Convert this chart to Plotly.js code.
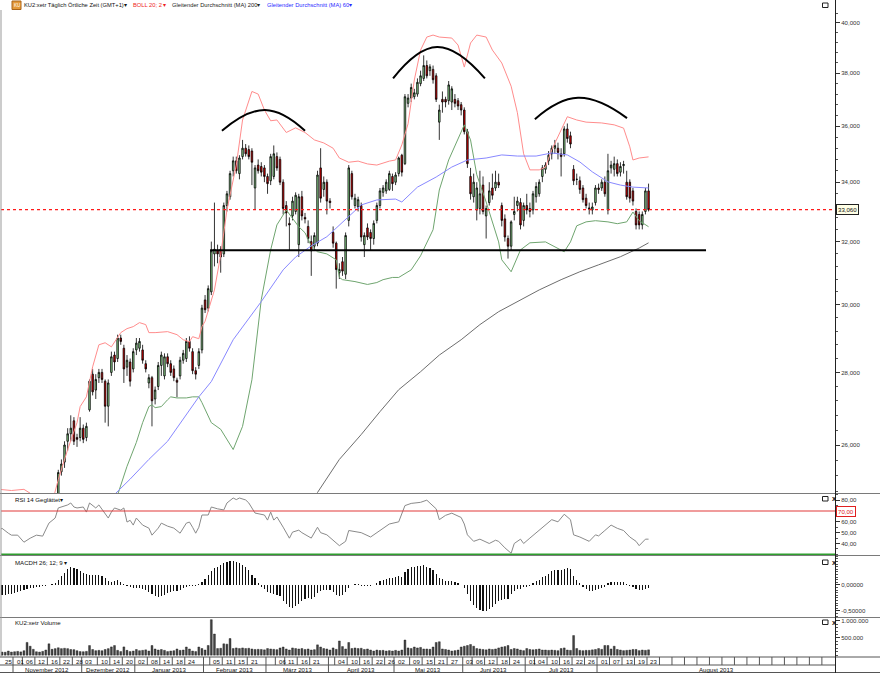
<!DOCTYPE html>
<html><head><meta charset="utf-8">
<script src="https://cdn.plot.ly/plotly-3.0.1.min.js"></script>
<style>html,body{margin:0;padding:0;background:#fff;} #chart{width:880px;height:673px;}</style>
</head><body><div id="chart"></div>
<script>
// ---------- DATA (daily candles, index 0 = 25.10.2012 ... 208 = 23.08.2013) ----------
const opens = [23.1,23.0,22.8,22.6,22.7,22.4,22.2,22.0,21.8,21.9,
22.2,22.1,22.4,22.3,22.6,22.9,23.3,23.7,24.0,24.5,
25.3,25.55,26.1,26.3,26.65,26.2,26.2,26.45,26.2,26.95,
27.95,27.5,27.85,28.0,27.75,27.05,28.0,28.5,28.4,29.0,
28.7,28.15,28.3,28.1,28.65,28.7,28.65,28.25,27.7,27.85,
27.25,27.6,28.2,27.9,28.45,28.25,28.1,27.78,27.9,28.35,
28.4,28.9,28.6,28.05,28.2,28.65,30.15,29.9,30.4,31.6,
31.7,31.75,31.6,33.2,33.5,34.4,34.75,34.3,34.9,35.2,
35.15,35.1,33.8,34.6,34.55,34.5,34.2,34.05,34.2,34.9,
34.8,34.0,33.2,32.6,32.85,33.0,31.9,33.5,32.8,32.5,
32.0,31.85,31.95,34.5,33.75,34.0,33.35,32.3,31.95,31.0,
31.35,30.95,32.7,34.3,33.2,33.15,33.2,31.9,32.45,32.3,
32.1,32.7,33.2,33.65,33.7,33.75,34.2,34.0,34.3,34.95,
34.65,36.85,37.05,37.1,37.2,37.6,37.8,38.3,38.1,38.15,
37.9,36.15,37.0,37.0,36.95,36.9,37.0,36.95,36.8,36.6,
35.8,34.2,33.5,33.05,33.1,33.9,32.85,33.3,33.8,33.8,
34.0,33.2,32.75,32.1,31.85,32.9,33.2,33.3,32.7,33.2,
33.1,33.05,33.5,33.6,34.2,34.45,34.75,35.0,35.2,35.2,
35.0,35.0,35.9,35.65,34.45,34.1,34.05,33.8,33.45,33.12,
33.05,33.3,33.8,33.8,34.0,33.05,34.5,34.45,34.65,34.35,
34.58,34.0,34.0,33.7,33.0,32.9,32.55,33.0,33.7];
const highs = [23.3,23.1,22.9,22.9,22.8,22.6,22.3,22.1,22.1,22.4,
22.3,22.5,22.5,22.7,23.0,23.4,23.8,24.1,24.6,25.35,
25.62,26.1,26.45,26.8,26.75,26.3,26.75,26.55,26.6,27.8,
28.1,27.95,28.1,28.1,27.8,27.8,28.6,28.6,29.1,29.1,
28.8,28.5,28.4,28.7,29.0,29.0,28.8,28.35,27.95,27.9,
27.6,28.3,28.6,28.55,28.55,28.35,28.2,27.85,28.45,28.65,
29.0,29.05,28.7,28.15,28.7,30.0,30.3,30.6,32.0,33.3,
31.9,31.85,33.3,33.7,34.4,34.9,34.9,34.95,35.5,35.35,
35.3,35.2,34.6,34.8,34.7,34.6,34.3,35.0,35.3,35.05,
34.9,34.1,33.35,32.8,33.5,33.65,33.6,33.7,32.95,32.7,
32.2,32.3,34.4,35.2,34.2,34.1,33.45,32.5,32.0,31.3,
31.5,32.3,34.6,34.4,33.6,33.5,33.3,32.3,32.6,32.4,
32.7,33.3,33.8,33.9,34.1,34.4,34.3,34.35,34.9,35.0,
37.2,37.2,37.6,37.4,37.8,38.1,38.7,38.5,38.35,38.3,
38.0,36.8,37.3,37.1,37.7,37.5,37.2,37.05,36.9,36.7,
35.9,34.5,34.3,34.0,34.4,34.2,33.2,34.0,34.3,34.4,
34.3,33.3,32.9,32.2,32.7,33.5,33.5,33.45,33.3,33.6,
33.3,33.7,34.0,34.1,34.6,34.7,35.1,35.3,35.5,35.4,
35.2,36.0,36.1,35.8,34.6,34.3,34.2,33.9,33.6,33.3,
33.3,33.9,33.95,34.1,34.2,35.0,34.75,34.9,34.8,34.7,
34.75,34.4,34.1,33.8,33.1,33.0,33.0,33.8,33.95];
const lows = [22.8,22.6,22.4,22.5,22.3,22.1,21.9,21.6,21.7,21.8,
21.9,22.0,22.1,22.2,22.5,22.8,23.2,23.6,23.9,24.4,
25.2,25.4,25.85,26.1,26.0,25.95,26.1,26.05,26.1,26.9,
27.35,27.25,27.7,27.7,26.6,26.5,27.9,28.05,28.3,28.8,
27.7,27.9,27.6,28.0,28.5,28.6,28.25,28.0,27.55,26.5,
27.1,27.5,27.9,27.8,28.15,27.9,27.75,27.3,27.8,28.25,
28.3,28.6,27.95,27.8,28.1,28.55,29.75,29.8,30.3,31.2,
31.3,31.0,31.5,33.0,33.4,34.2,34.3,34.1,34.8,34.9,
34.8,33.9,33.05,34.3,34.2,34.0,33.6,33.9,34.1,34.4,
33.9,32.9,32.5,31.7,32.7,32.9,31.5,32.7,32.6,31.95,
30.9,31.7,31.85,33.3,33.5,32.9,33.1,31.8,30.5,30.8,
30.9,30.8,32.5,33.4,33.1,33.0,32.0,31.5,32.05,31.7,
31.9,32.6,33.1,33.5,33.6,33.7,33.7,33.9,34.2,34.2,
34.6,36.7,36.9,37.0,37.1,37.5,37.7,37.8,37.9,37.6,
36.9,35.5,36.5,36.7,36.8,36.6,36.7,36.6,36.4,35.7,
34.5,33.4,33.3,32.7,32.9,32.9,32.1,33.2,33.4,33.7,
33.8,32.5,32.0,31.45,31.7,32.7,33.0,32.4,32.5,32.9,
32.8,32.9,33.3,33.5,34.0,34.3,34.6,34.8,35.0,34.8,
34.2,34.9,35.4,35.2,33.9,33.9,33.6,33.3,33.1,32.9,
32.9,33.2,33.6,33.7,33.5,32.9,34.3,34.2,34.2,34.2,
34.3,33.4,33.3,33.2,32.4,32.4,32.4,32.9,33.0];
const closes = [23.0,22.8,22.6,22.7,22.4,22.2,22.0,21.8,21.9,22.2,
22.1,22.4,22.3,22.6,22.9,23.3,23.7,24.0,24.4,25.28,
25.5,26.0,26.3,26.45,26.1,26.15,26.45,26.15,26.5,27.75,
27.45,27.8,28.0,27.8,27.05,27.7,28.45,28.3,29.0,28.9,
28.1,28.35,27.75,28.6,28.85,28.9,28.35,28.1,27.85,27.2,
27.5,28.2,28.5,28.45,28.25,28.0,27.85,27.72,28.35,28.55,
28.9,28.7,28.05,27.95,28.6,29.9,29.85,30.5,31.7,31.75,
31.6,31.5,33.2,33.6,34.3,34.75,34.4,34.85,35.2,35.0,
34.9,34.7,34.5,34.4,34.35,34.2,33.95,34.9,35.0,34.5,
34.0,33.1,32.95,32.55,33.35,33.55,33.5,32.85,32.75,32.1,
31.7,32.2,34.25,33.45,34.0,33.35,33.3,31.95,31.1,31.1,
31.05,32.2,34.5,33.5,33.45,33.4,32.15,32.2,32.15,32.1,
32.6,33.2,33.7,33.8,34.0,34.3,33.95,34.25,34.85,34.35,
37.1,37.05,37.45,37.25,37.65,37.9,38.3,37.9,38.25,37.75,
37.0,36.6,36.9,36.9,37.55,37.4,36.85,36.75,36.6,35.8,
34.65,33.6,34.0,33.8,33.6,33.0,33.1,33.7,33.55,34.0,
33.9,32.7,32.15,31.85,32.65,33.0,33.35,32.55,33.2,33.05,
33.0,33.6,33.85,34.0,34.5,34.6,34.95,35.2,35.3,35.05,
34.9,35.9,35.55,35.35,34.05,34.1,33.75,33.4,33.2,33.08,
33.15,33.8,33.75,34.0,33.6,34.4,34.6,34.65,34.3,34.55,
34.62,33.5,33.45,33.35,32.55,32.55,32.9,33.7,33.06];

// Volume in thousands
const volumeK = [80,90,85,120,90,100,110,95,130,370,
260,170,100,90,110,150,330,170,190,215,
190,200,190,165,160,130,105,100,110,280,
165,130,140,130,165,190,240,280,140,105,
240,140,105,120,165,130,140,155,120,280,
180,150,165,140,105,120,130,180,140,150,
237,180,120,105,237,193,150,281,1030,614,
193,200,330,320,482,193,210,193,210,193,
200,180,166,170,166,155,193,180,170,160,
210,237,180,150,210,193,180,193,166,180,
150,160,300,237,193,180,150,210,170,412,
250,180,368,193,210,193,200,166,180,150,
120,150,135,140,120,132,120,140,120,150,
440,210,193,237,210,225,180,180,170,237,
368,390,180,166,150,120,132,150,237,260,
281,310,260,193,180,166,155,180,166,180,
210,237,250,281,166,193,180,150,132,193,
166,155,166,180,150,150,140,150,140,132,
193,210,150,140,570,193,140,132,140,140,
155,166,193,170,281,281,180,260,166,150,
132,140,150,166,166,132,150,140,155];

// MACD histogram (26;12;9)
const macdHist = [-0.20,-0.20,-0.19,-0.18,-0.17,-0.15,-0.13,-0.11,-0.09,-0.07,
-0.06,-0.05,-0.04,-0.03,-0.02,-0.02,0.00,0.01,0.04,0.10,
0.17,0.24,0.30,0.34,0.33,0.30,0.26,0.24,0.21,0.19,
0.20,0.20,0.19,0.17,0.13,0.08,0.06,0.07,0.09,0.06,
0.01,-0.02,-0.04,-0.06,-0.05,-0.06,-0.08,-0.10,-0.13,-0.18,
-0.22,-0.23,-0.22,-0.20,-0.16,-0.13,-0.12,-0.11,-0.09,-0.06,
-0.04,-0.02,-0.01,-0.02,0.02,0.06,0.11,0.20,0.26,0.32,
0.35,0.38,0.42,0.45,0.47,0.47,0.45,0.42,0.39,0.35,
0.29,0.20,0.13,0.03,-0.04,-0.08,-0.13,-0.16,-0.18,-0.20,
-0.22,-0.30,-0.37,-0.42,-0.45,-0.40,-0.36,-0.30,-0.27,-0.25,
-0.26,-0.24,-0.15,-0.12,-0.10,-0.10,-0.10,-0.14,-0.20,-0.22,
-0.20,-0.14,-0.05,0.00,0.02,0.02,-0.01,-0.02,-0.02,-0.02,
0.00,0.04,0.07,0.09,0.11,0.14,0.14,0.15,0.17,0.16,
0.25,0.30,0.34,0.35,0.37,0.37,0.38,0.35,0.32,0.28,
0.22,0.14,0.11,0.08,0.08,0.07,0.05,0.03,0.00,-0.05,
-0.17,-0.30,-0.38,-0.44,-0.48,-0.50,-0.50,-0.46,-0.42,-0.36,
-0.30,-0.28,-0.27,-0.26,-0.18,-0.12,-0.08,-0.07,-0.04,-0.03,
-0.01,0.03,0.07,0.10,0.15,0.18,0.22,0.26,0.28,0.29,
0.28,0.31,0.32,0.30,0.18,0.10,0.03,-0.03,-0.08,-0.12,
-0.12,-0.10,-0.08,-0.05,-0.04,0.03,0.05,0.06,0.06,0.06,
0.05,0.02,-0.01,-0.03,-0.07,-0.10,-0.10,-0.07,-0.06];

// Indicator lines: [day index, value]
const bollUpper = [[0,24.85],[4,24.82],[8,24.85],[10,24.75],[13,24.5],[17,24.5],[19,25.1],[22,25.88],[25,26.6],[26,27.04],[28,27.31],[30,28.16],[32,28.8],[34,28.86],[36,28.74],[37,28.89],[39,29.16],[41,29.28],[43,29.34],[45,29.46],[47,29.40],[48,29.16],[50,29.16],[54,29.19],[55,29.16],[57,29.10],[59,28.95],[61,28.89],[62,29.04],[64,28.98],[65,29.34],[66,29.5],[69,30.46],[71,31.57],[73,33.05],[76,34.6],[78,36.23],[80,36.98],[81,37.3],[83,37.2],[85,36.6],[87,36.2],[89,36.23],[92,35.77],[95,35.94],[98,35.77],[101,35.5],[104,35.39],[107,35.2],[109,34.85],[112,34.7],[115,34.74],[118,34.64],[121,34.6],[125,34.74],[127,34.78],[128,35.03],[129,35.32],[131,36.09],[133,37.74],[135,38.91],[137,39.43],[139,39.51],[141,39.43],[145,39.39],[147,39.11],[149,38.24],[151,39.19],[153,39.51],[156,39.43],[158,38.91],[161,38.4],[164,37.5],[166,36.5],[168,35.0],[170,34.43],[173,34.43],[175,34.53],[177,35.14],[181,36.15],[182,36.35],[185,36.23],[188,36.15],[193,36.12],[197,36.05],[200,35.93],[202,35.25],[203,34.78],[205,34.85],[208,34.89]];
const bollLower = [[35,24.0],[38,24.72],[41,25.44],[44,26.07],[46,26.6],[48,27.04],[49,27.09],[50,27.01],[52,27.04],[54,27.23],[55,27.31],[57,27.28],[60,27.28],[62,27.31],[64,27.31],[65,27.15],[68,26.6],[71,26.42],[75,25.88],[78,26.5],[81,27.79],[84,30.16],[87,31.73],[89,32.55],[92,33.05],[96,32.49],[98,32.29],[100,31.86],[102,31.67],[105,31.6],[108,31.41],[109,30.85],[110,30.78],[114,30.72],[118,30.63],[121,30.69],[123,30.78],[126,30.85],[128,30.85],[132,31.09],[135,31.54],[139,32.39],[141,33.73],[144,34.78],[147,35.5],[149,36.05],[151,35.5],[153,34.26],[156,33.32],[160,31.99],[161,31.41],[164,31.03],[167,31.73],[170,31.96],[175,31.99],[181,31.67],[183,31.99],[185,32.52],[188,32.65],[191,32.69],[195,32.65],[198,32.59],[201,32.65],[203,32.98],[205,32.69],[208,32.49]];
const ma60 = [[36,24.5],[37,24.72],[42,25.11],[48,25.62],[54,26.1],[59,26.69],[64,27.31],[68,27.74],[75,28.95],[84,30.1],[91,31.09],[95,31.5],[100,31.86],[105,32.16],[111,32.72],[116,33.22],[121,33.39],[127,33.42],[129,33.32],[134,33.83],[140,34.18],[145,34.53],[150,34.78],[156,34.85],[161,34.96],[166,34.92],[172,34.92],[177,35.03],[182,34.96],[186,34.71],[190,34.36],[195,34.01],[199,33.9],[203,33.83],[208,33.8]];
const ma200 = [[100,24.6],[102,24.77],[109,25.62],[116,26.28],[122,26.9],[128,27.51],[135,28.02],[141,28.5],[148,28.95],[154,29.4],[160,29.79],[167,30.16],[173,30.46],[180,30.78],[186,31.03],[192,31.25],[199,31.51],[205,31.79],[208,31.96]];
const rsi14 = [[0,52.3],[1,54],[3,49.5],[4,47.7],[6,47.7],[8,41.2],[10,44.9],[12,47.7],[14,46.8],[16,58.8],[18,63.5],[19,72.8],[22,75.6],[23,77.4],[24,73.7],[25,72.8],[27,73.7],[28,69],[29,77.4],[31,72.8],[32,75.6],[35,63.5],[36,69],[37,72.8],[39,70.8],[40,72.8],[41,59.8],[42,61.4],[43,57],[44,63.5],[46,57],[48,54.2],[49,47.7],[51,54.2],[52,58.8],[54,56],[56,54.2],[58,49.5],[60,58.8],[61,59.8],[62,55],[63,49.5],[64,55],[65,66.3],[67,66.3],[68,73.7],[70,72],[72,71],[73,77.4],[75,82],[76,80.5],[77,82],[79,80.2],[80,77.4],[82,68.1],[84,67],[85,66.3],[86,61.6],[87,69],[88,61.6],[89,64.5],[91,55.1],[93,44.9],[94,50.5],[96,52.3],[97,50],[100,45],[102,55],[103,50],[105,48],[108,40],[109,38],[111,42],[112,52],[116,50],[119,46],[122,52],[125,58],[128,60],[130,75],[132,77],[135,78],[137,80],[140,72],[141,62],[143,66],[145,68],[148,64],[149,58],[150,48],[152,42],[154,44],[157,40],[159,43],[160,42],[162,36],[164,31],[165,40],[167,44],[168,40],[170,45],[173,52],[175,57],[177,62],[179,60],[181,67],[183,62],[184,48],[186,46],[189,42],[191,48],[192,47],[194,52],[196,57],[198,54],[200,52],[202,46],[204,42],[205,38],[207,44],[208,44]];
const rsiUpperLevel = 70, rsiLowerLevel = 30;

// Drawn annotations (neckline and head & shoulders arcs): [day index, price]
const neckline = [[67.6,31.72],[226.4,31.72]];
const leftShoulder = [[71.4,35.83],[85.2,36.6],[98.0,35.83]];
const headArc = [[126.2,37.8],[140.3,39.03],[155.6,37.8]];
const rightShoulder = [[171.6,36.26],[185.4,37.06],[201.1,36.3]];

// Axis labels
const priceTicks = [26,28,30,32,34,36,38,40];
const priceTickText = ['26,000','28,000','30,000','32,000','34,000','36,000','38,000','40,000'];
const rsiTicks = [40,50,60,80];
const rsiTickText = ['40,00','50,00','60,00','80,00'];
const macdTicks = [0,-0.5];
const macdTickText = ['0,00000','-0,50000'];
const volTicks = [500,1000];
const volTickText = ['500.000','1.000.000'];

// Date axis
const dayLabelIdx = [0,5,8,12,16,20,24,27,32,36,40,44,48,52,56,60,68,72,76,80,89,92,96,100,108,112,116,120,124,127,132,136,140,144,149,152,156,160,164,169,172,176,180,184,188,192,196,200,204,208];
const dayLabelText = ['25','01','06','12','16','22','28','03','10','14','20','02','08','14','18','24','05','11','15','21','06','11','16','21','04','10','16','22','26','02','09','15','21','27','03','06','12','18','24','01','04','10','16','22','26','01','07','13','19','23'];
const monthStartIdx = [5,27,44,66,86,106,127,149,169,192];
const monthNames = ['November 2012','Dezember 2012','Januar 2013','Februar 2013','März 2013','April 2013','Mai 2013','Juni 2013','Juli 2013','August 2013'];
const futureBoxIdx = [212,216,220,224,228,232,236,240,244,248,252,256,260,264];

// ---------- LAYOUT HELPERS ----------
const FONT = "'Liberation Sans',Arial,sans-serif";
const FS = 6.1;
const HFS = 5.75;
const PX = p => (p - 1) / 834;       // pixel x -> paper
const PY = p => (657 - p) / 647;     // pixel y -> paper
const xr = [0.656, 267.7];
const idx = opens.map((_, i) => i);
const col = (a, k) => a.map(p => p[k]);

const traces = [];
traces.push({type:'candlestick', x: idx, open: opens, high: highs, low: lows, close: closes,
  xaxis:'x', yaxis:'y', whiskerwidth:0, hoverinfo:'skip', showlegend:false,
  increasing:{fillcolor:'#90dc90', line:{color:'#000', width:0.8}},
  decreasing:{fillcolor:'#e00000', line:{color:'#000', width:0.8}}});
function line(pts, color, width, extra) {
  return Object.assign({type:'scatter', mode:'lines', x: col(pts,0), y: col(pts,1),
    line:{color, width}, hoverinfo:'skip', showlegend:false, xaxis:'x', yaxis:'y'}, extra || {});
}
traces.push(line(bollUpper, '#ff8c8c', 1));
traces.push(line(bollLower, '#6fa56f', 1));
traces.push(line(ma200, '#6e6e6e', 1));
traces.push(line(ma60, '#8888ff', 1));
const lastClose = closes[closes.length-1];
traces.push(line([[xr[0], lastClose], [xr[1], lastClose]], '#ff2020', 1.5, {line:{color:'#ff1a1a', width:1.4, dash:'dot'}}));
traces.push(line(neckline, '#000', 2));
[leftShoulder, headArc, rightShoulder].forEach(a => traces.push(line(a, '#000', 2, {line:{color:'#000', width:2, shape:'spline', smoothing:1.3}})));
// RSI
traces.push(line(rsi14, '#8a8a8a', 1, {xaxis:'x2', yaxis:'y2'}));
traces.push(line([[xr[0], rsiUpperLevel],[xr[1], rsiUpperLevel]], '#e23a3a', 1.2, {xaxis:'x2', yaxis:'y2'}));
traces.push(line([[xr[0], rsiLowerLevel],[xr[1], rsiLowerLevel]], '#2e9e2e', 1.6, {xaxis:'x2', yaxis:'y2'}));
// MACD histogram
traces.push({type:'bar', x: idx, y: macdHist, xaxis:'x3', yaxis:'y3', width:0.38,
  marker:{color:'#111', line:{width:0}}, hoverinfo:'skip', showlegend:false});
// Volume
traces.push({type:'bar', x: idx, y: volumeK, xaxis:'x4', yaxis:'y4', width:0.6,
  marker:{color:'#444', line:{color:'#111', width:0.4}}, hoverinfo:'skip', showlegend:false});

const axisFont = {family: FONT, size: FS, color: '#333'};
const xBase = {range: xr, showticklabels:false, showgrid:false, zeroline:false, showline:false, ticks:'', fixedrange:true};
function yAx(domain, range, tv, tt, minorVals, extra) {
  return Object.assign({domain, range, side:'right', tickvals: tv, ticktext: tt, ticks:'outside',
    ticklen:4, tickwidth:1, tickcolor:'#333', tickfont: axisFont, showgrid:false, zeroline:false,
    showline:false, fixedrange:true,
    minor:{tickmode:'array', tickvals:minorVals, ticks:'outside', ticklen:2, tickcolor:'#555', tickwidth:1, showgrid:false}}, extra||{});
}
const priceMinor = []; for (let v = 24.8; v < 40.5; v += 0.4) priceMinor.push(+v.toFixed(2));
const rsiMinor = []; for (let v = 30; v <= 85; v += 5) rsiMinor.push(v);
const macdMinor = []; for (let v = -0.6; v <= 0.55; v += 0.05) macdMinor.push(+v.toFixed(2));
const volMinor = []; for (let v = 0; v <= 1050; v += 100) volMinor.push(v);

const shapes = [];
const hl = (y, x0, x1, color, w) => shapes.push({type:'line', xref:'paper', yref:'paper', x0:PX(x0), x1:PX(x1), y0:PY(y), y1:PY(y), line:{color, width:w||1}});
[493.5, 555.5, 617.5].forEach(y => hl(y, 0, 880, '#7a7a7a'));
hl(657, 0, 880, '#555');
hl(665, 0, 835, '#555');
hl(672.5, 0, 880, '#555');
shapes.push({type:'line', xref:'paper', yref:'paper', x0:PX(835.5), x1:PX(835.5), y0:PY(0), y1:PY(673), line:{color:'#222', width:1}});
shapes.push({type:'line', xref:'paper', yref:'paper', x0:PX(1), x1:PX(1), y0:PY(10), y1:PY(657), line:{color:'#999', width:1}});
const sepDays = Array.from(new Set(dayLabelIdx.slice(1).concat(monthStartIdx, futureBoxIdx)));
sepDays.forEach(d => shapes.push({type:'line', xref:'x', yref:'paper', x0:d-0.5, x1:d-0.5, y0:PY(657), y1:PY(665), line:{color:'#555', width:1}}));
monthStartIdx.forEach(d => shapes.push({type:'line', xref:'x', yref:'paper', x0:d-0.5, x1:d-0.5, y0:PY(665), y1:PY(672.5), line:{color:'#555', width:1}}));
// header icon and panel window icons
shapes.push({type:'rect', xref:'paper', yref:'paper', x0:PX(12), x1:PX(21), y0:PY(9.5), y1:PY(1), fillcolor:'#e59a3a', line:{color:'#a8641c', width:1}});
[5, 498.5, 562, 622].forEach(y => {
  shapes.push({type:'rect', xref:'paper', yref:'paper', x0:PX(822.5), x1:PX(828), y0:PY(y+2.5), y1:PY(y-2), fillcolor:'#fff', line:{color:'#222', width:1}});
});

const annotations = [];
const txt = (x, y, text, color, size, extra) => annotations.push(Object.assign({xref:'paper', yref:'paper', x:PX(x), y:PY(y), text,
  showarrow:false, xanchor:'left', yanchor:'middle', font:{family:FONT, size:size||FS, color:color||'#111'}}, extra||{}));
txt(21.5, 5, 'KU2:xetr Täglich Örtliche Zeit (GMT+1)▾', '#111', HFS);
txt(130.5, 5, 'BOLL 20; 2 ▾', '#ee1c1c', HFS);
txt(169.5, 5, 'Gleitender Durchschnitt (MA) 200▾', '#222', HFS);
txt(264.5, 5, 'Gleitender Durchschnitt (MA) 60▾', '#2a2aff', HFS);
txt(13, 499, 'RSI 14 Geglättet▾', '#111');
txt(13, 562.5, 'MACDH 26; 12; 9 ▾', '#111');
txt(13, 622.5, 'KU2:xetr Volume', '#111');
txt(16.5, 5.5, 'KU', '#fff', 4.5, {xanchor:'center'});
[498.5, 562, 622].forEach(y => txt(829.5, y, '<b>x</b>', '#111', 7.5));
// last price label and RSI 70 label
annotations.push({xref:'paper', yref:'y', x:PX(836), y:Math.log10(lastClose), text:lastClose.toFixed(3).replace('.', ','),
  showarrow:false, xanchor:'left', yanchor:'middle', font:{family:FONT, size:FS, color:'#111'},
  bgcolor:'#ffffe6', bordercolor:'#222', borderwidth:1, borderpad:1});
annotations.push({xref:'paper', yref:'y2', x:PX(836), y:rsiUpperLevel, text:rsiUpperLevel.toFixed(2).replace('.', ','),
  showarrow:false, xanchor:'left', yanchor:'middle', font:{family:FONT, size:FS, color:'#e02020'},
  bgcolor:'#fff', bordercolor:'#e02020', borderwidth:1, borderpad:1});
// date labels
dayLabelIdx.forEach((d, k) => annotations.push({xref:'x', yref:'paper', x:Math.max(d-0.5, xr[0]), y:PY(661.3), xshift:1.5,
  text:dayLabelText[k], showarrow:false, xanchor:'left', yanchor:'middle', font:{family:FONT, size:FS, color:'#111'}}));
monthStartIdx.forEach((d, k) => {
  const end = k < monthStartIdx.length - 1 ? monthStartIdx[k+1] - 0.5 : xr[1];
  annotations.push({xref:'x', yref:'paper', x:((d-0.5)+end)/2, y:PY(669), text:monthNames[k], showarrow:false,
    xanchor:'center', yanchor:'middle', font:{family:FONT, size:FS, color:'#111'}});
});

const layout = {
  width:880, height:673, margin:{l:1, r:45, t:10, b:16, pad:0},
  paper_bgcolor:'#fff', plot_bgcolor:'#fff', showlegend:false, hovermode:false,
  font:{family:FONT, size:FS, color:'#222'},
  xaxis: Object.assign({anchor:'y', rangeslider:{visible:false}}, xBase),
  xaxis2: Object.assign({anchor:'y2'}, xBase),
  xaxis3: Object.assign({anchor:'y3'}, xBase),
  xaxis4: Object.assign({anchor:'y4'}, xBase),
  yaxis: yAx([0.25348, 1], [Math.log10(24.757), Math.log10(40.534)], priceTicks, priceTickText, priceMinor, {type:'log', anchor:'x'}),
  yaxis2: yAx([0.15765, 0.25193], [29.38, 85.69], rsiTicks, rsiTickText, rsiMinor, {anchor:'x2'}),
  yaxis3: yAx([0.06182, 0.15611], [-0.6154, 0.5577], macdTicks, macdTickText, macdMinor, {anchor:'x3'}),
  yaxis4: yAx([0, 0.06028], [-53, 1079], volTicks, volTickText, volMinor, {anchor:'x4'}),
  bargap:0, shapes, annotations
};
Plotly.newPlot('chart', traces, layout, {displayModeBar:false, staticPlot:true});
</script></body></html>
